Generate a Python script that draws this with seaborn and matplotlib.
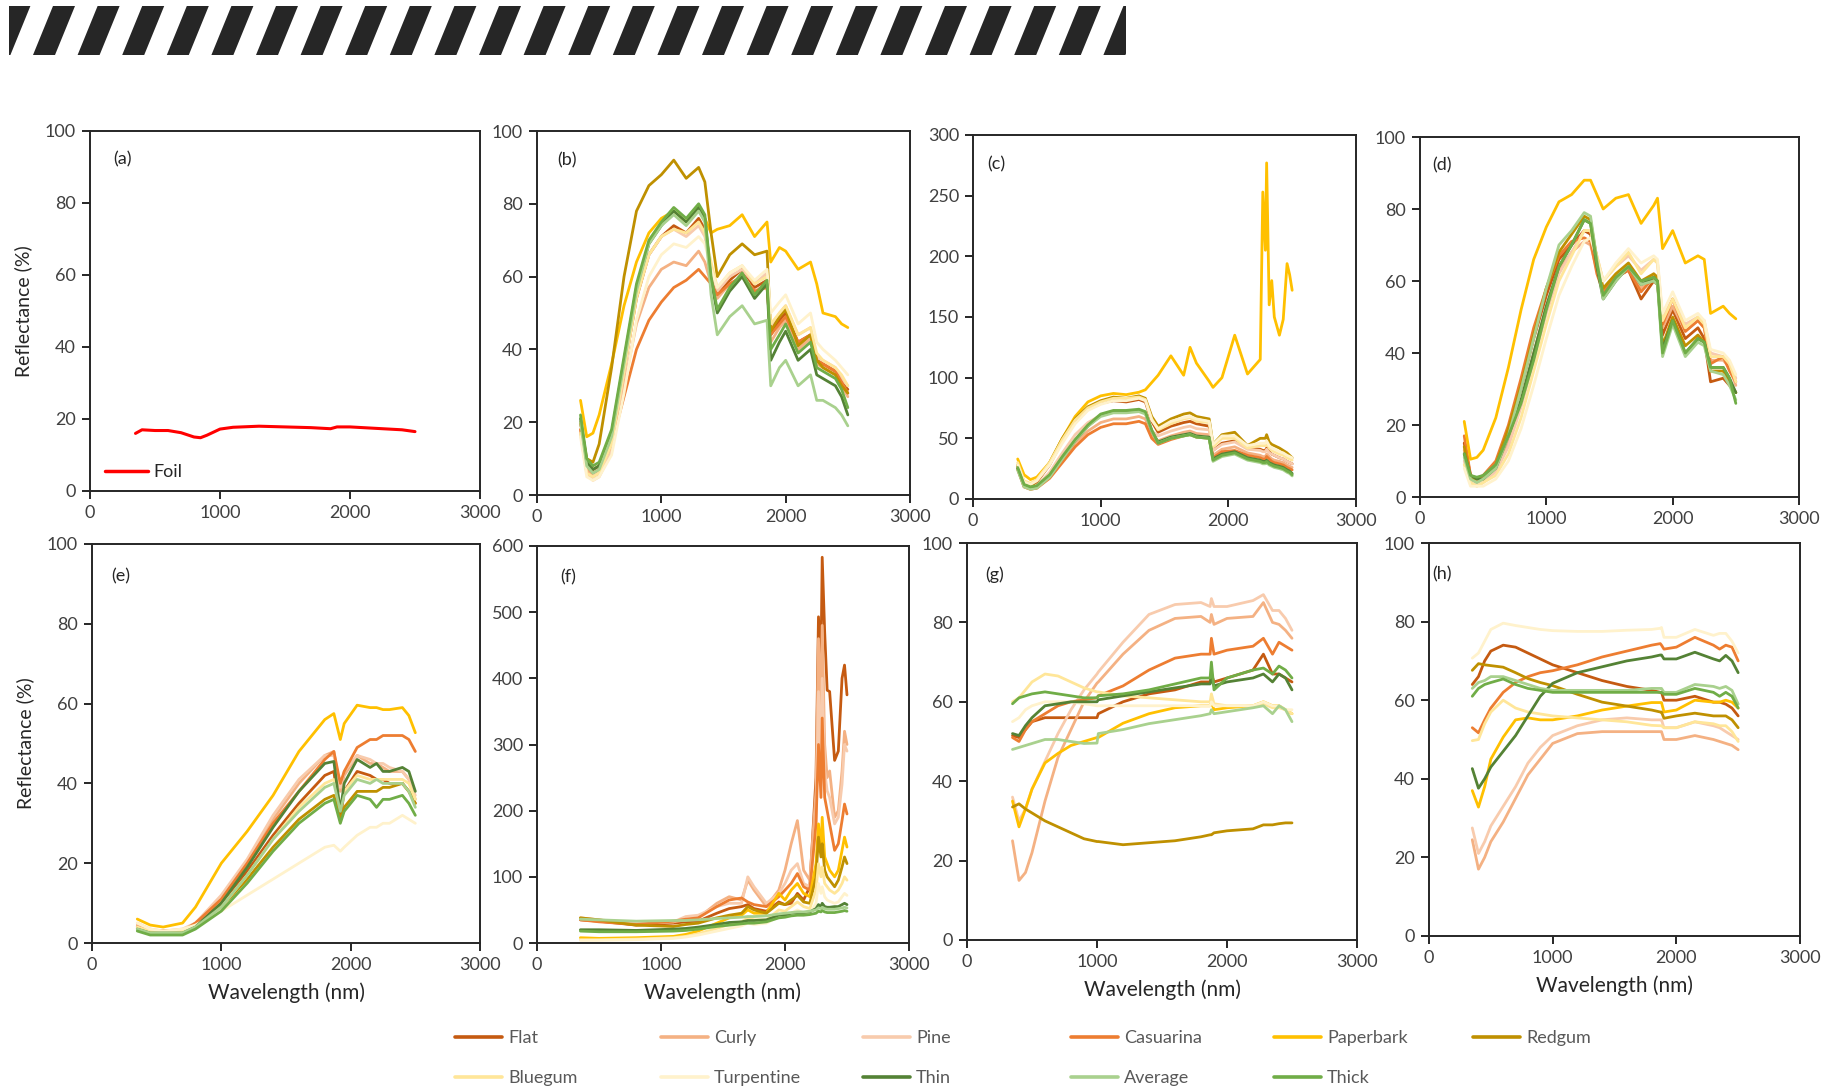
import matplotlib
matplotlib.use("Agg")
import matplotlib.pyplot as plt
from matplotlib.lines import Line2D
import pandas as pd
import seaborn as sns

# ---- series names and colours (legend order) ----
samples = ["Flat", "Curly", "Pine", "Casuarina", "Paperbark", "Redgum",
           "Bluegum", "Turpentine", "Thin", "Average", "Thick"]
colours = ["#C55A11", "#F4B183", "#F8CBAD", "#ED7D31", "#FFC000", "#BF9000",
           "#FFE699", "#FFF2CC", "#548235", "#A9D18E", "#70AD47"]

# ---- (a) foil ----
wl_a = [350, 400, 500, 600, 700, 800, 850, 900, 1000, 1100, 1300, 1500, 1700, 1850, 1900, 2000, 2200, 2400, 2500]
foil = [16, 17, 16.8, 16.8, 16.2, 15, 14.8, 15.5, 17.2, 17.7, 18, 17.8, 17.6, 17.3, 17.8, 17.8, 17.4, 17, 16.5]

# ---- (b) ----
wl_b = [350, 400, 450, 500, 600, 700, 800, 900, 1000, 1100, 1200, 1300, 1350, 1400, 1450,
        1550, 1650, 1750, 1850, 1880, 1950, 2000, 2100, 2200, 2250, 2300, 2400, 2450, 2500]
refl_b = {
    "Flat":       [20, 9, 7, 8, 16, 34, 54, 66, 71, 74, 72, 76, 73, 62, 55, 59, 62, 57, 59, 44, 48, 50, 42, 44, 37, 36, 34, 31, 29],
    "Curly":      [18, 7, 5, 6, 13, 30, 47, 57, 62, 64, 63, 67, 64, 58, 54, 58, 60, 56, 58, 42, 46, 48, 40, 43, 36, 35, 33, 30, 27],
    "Pine":       [17, 6, 4, 5, 12, 34, 55, 66, 71, 73, 71, 74, 71, 62, 56, 60, 62, 58, 61, 46, 50, 52, 44, 46, 38, 37, 35, 32, 30],
    "Casuarina":  [18, 8, 6, 7, 14, 27, 40, 48, 53, 57, 59, 62, 60, 58, 55, 58, 60, 56, 57, 44, 47, 49, 42, 44, 37, 36, 34, 31, 28],
    "Paperbark":  [26, 16, 17, 22, 36, 52, 64, 72, 76, 78, 75, 79, 76, 72, 73, 74, 77, 71, 75, 64, 68, 67, 62, 64, 58, 50, 49, 47, 46],
    "Redgum":     [20, 10, 9, 14, 35, 60, 78, 85, 88, 92, 87, 90, 86, 72, 60, 66, 69, 66, 67, 45, 49, 51, 41, 44, 37, 35, 33, 30, 28],
    "Bluegum":    [17, 6, 5, 6, 14, 34, 54, 66, 71, 73, 72, 75, 72, 64, 57, 61, 63, 58, 60, 47, 50, 52, 44, 46, 39, 37, 35, 33, 30],
    "Turpentine": [16, 5, 4, 5, 11, 28, 48, 60, 66, 69, 68, 71, 69, 62, 57, 61, 63, 59, 62, 50, 53, 55, 47, 50, 42, 40, 37, 35, 33],
    "Thin":       [21, 9, 7, 8, 17, 37, 57, 69, 74, 78, 75, 79, 76, 59, 50, 56, 60, 54, 58, 37, 42, 45, 37, 40, 33, 32, 30, 27, 22],
    "Average":    [20, 8, 6, 7, 16, 36, 56, 69, 74, 77, 74, 78, 75, 55, 44, 49, 52, 47, 48, 30, 35, 37, 30, 33, 26, 26, 24, 22, 19],
    "Thick":      [22, 10, 8, 9, 18, 38, 58, 70, 75, 79, 76, 80, 77, 60, 51, 57, 61, 55, 59, 40, 44, 47, 39, 42, 35, 34, 32, 29, 24],
}

# ---- (c) ----
wl_c = [350, 400, 450, 500, 600, 700, 800, 900, 1000, 1100, 1200, 1300, 1350, 1400, 1450, 1550, 1650, 1700,
        1750, 1850, 1880, 1950, 2050, 2150, 2250, 2270, 2290, 2300, 2320, 2340, 2360, 2400, 2430, 2460, 2480, 2500]
refl_c = {
    "Flat":       [27, 13, 11, 14, 28, 48, 64, 74, 79, 81, 80, 82, 80, 64, 55, 60, 63, 64, 62, 60, 40, 46, 48, 42, 41, 40, 40, 42, 39, 37, 36, 34, 33, 31, 30, 29],
    "Curly":      [24, 10, 8, 9, 18, 32, 46, 56, 63, 66, 66, 68, 66, 52, 48, 52, 55, 56, 54, 53, 36, 41, 43, 38, 36, 35, 35, 37, 35, 33, 32, 31, 30, 28, 27, 26],
    "Pine":       [25, 11, 9, 11, 22, 38, 53, 63, 69, 72, 72, 73, 71, 56, 52, 56, 59, 60, 58, 57, 40, 45, 47, 41, 40, 39, 39, 41, 38, 37, 36, 34, 33, 31, 30, 29],
    "Casuarina":  [25, 10, 8, 9, 17, 30, 43, 53, 59, 62, 62, 64, 62, 50, 45, 49, 52, 53, 51, 50, 34, 39, 40, 36, 34, 33, 33, 35, 33, 31, 30, 29, 28, 26, 25, 24],
    "Paperbark":  [33, 20, 16, 18, 30, 50, 68, 80, 85, 87, 86, 88, 90, 96, 102, 118, 102, 125, 112, 97, 92, 100, 135, 103, 115, 253, 205, 277, 160, 180, 150, 135, 148, 194, 185, 172],
    "Redgum":     [28, 13, 11, 15, 30, 50, 66, 76, 81, 84, 83, 85, 83, 68, 60, 66, 70, 71, 68, 66, 45, 53, 55, 44, 50, 50, 50, 53, 47, 45, 44, 42, 40, 38, 36, 34],
    "Bluegum":    [30, 15, 13, 16, 30, 49, 65, 75, 80, 83, 83, 84, 82, 66, 57, 62, 66, 67, 64, 63, 43, 50, 50, 42, 44, 44, 44, 46, 42, 40, 39, 37, 36, 34, 33, 32],
    "Turpentine": [28, 14, 12, 15, 28, 46, 62, 73, 78, 81, 81, 83, 81, 65, 58, 64, 67, 68, 66, 64, 45, 52, 52, 44, 46, 46, 46, 48, 44, 42, 41, 39, 38, 36, 35, 34],
    "Thin":       [25, 11, 9, 10, 19, 34, 48, 60, 69, 72, 72, 73, 71, 56, 47, 51, 53, 54, 52, 51, 33, 37, 39, 34, 32, 31, 31, 32, 30, 29, 28, 27, 26, 24, 23, 21],
    "Average":    [24, 10, 8, 9, 18, 33, 48, 60, 68, 71, 71, 72, 70, 56, 46, 50, 52, 53, 51, 50, 31, 35, 37, 32, 30, 29, 29, 30, 28, 27, 26, 25, 24, 22, 21, 19],
    "Thick":      [26, 12, 10, 11, 20, 35, 49, 61, 70, 73, 73, 74, 72, 57, 46, 50, 52, 53, 51, 50, 32, 36, 38, 33, 31, 30, 30, 31, 29, 28, 27, 26, 25, 23, 22, 20],
}

# ---- (d) ----
wl_d = [350, 400, 450, 500, 600, 700, 800, 900, 1000, 1100, 1200, 1300, 1350, 1400, 1450,
        1550, 1650, 1750, 1850, 1880, 1920, 2000, 2100, 2200, 2250, 2300, 2400, 2450, 2500]
refl_d = {
    "Flat":       [15, 6, 5, 5, 9, 18, 30, 44, 56, 66, 70, 74, 73, 64, 57, 61, 63, 55, 60, 59, 45, 52, 44, 47, 44, 32, 33, 31, 29],
    "Curly":      [13, 5, 4, 5, 8, 15, 26, 40, 53, 63, 68, 71, 70, 63, 57, 61, 64, 58, 62, 61, 47, 53, 46, 49, 47, 38, 38, 36, 31],
    "Pine":       [10, 4, 3, 4, 7, 14, 25, 38, 51, 62, 68, 74, 74, 67, 60, 64, 67, 63, 66, 65, 50, 55, 48, 50, 49, 40, 39, 37, 33],
    "Casuarina":  [17, 6, 5, 6, 10, 20, 33, 47, 58, 67, 71, 72, 71, 62, 57, 61, 63, 57, 61, 60, 48, 55, 46, 49, 47, 37, 39, 35, 32],
    "Paperbark":  [21, 10.5, 11, 13, 22, 36, 52, 66, 75, 82, 84, 88, 88, 84, 80, 83, 84, 76, 81, 83, 69, 74, 65, 67, 66, 51, 53, 51, 49.5],
    "Redgum":     [14, 5, 5, 5, 9, 19, 31, 45, 58, 68, 73, 78, 77, 66, 58, 62, 65, 60, 62, 61, 42, 50, 42, 45, 43, 35, 35, 32, 29],
    "Bluegum":    [9, 4, 3, 4, 6, 12, 22, 35, 48, 60, 67, 74, 74, 67, 60, 64, 68, 62, 66, 65, 49, 55, 47, 50, 48, 39, 39, 37, 32],
    "Turpentine": [8, 3, 3, 3, 5, 10, 19, 31, 44, 56, 64, 71, 72, 66, 60, 65, 69, 65, 67, 66, 51, 57, 49, 51, 49, 41, 40, 38, 34],
    "Thin":       [12, 6, 5, 5, 8, 17, 27, 40, 53, 64, 70, 77, 76, 64, 55, 60, 64, 59, 61, 60, 41, 49, 40, 44, 43, 36, 36, 33, 29],
    "Average":    [11, 5, 4, 5, 8, 17, 30, 44, 58, 70, 74, 79, 78, 66, 55, 60, 64, 59, 60, 59, 39, 48, 39, 43, 42, 35, 34, 31, 27],
    "Thick":      [12, 6, 5.5, 6, 9, 17, 26, 38, 52, 64, 70, 77, 76, 65, 56, 61, 64, 60, 61, 60, 40, 49, 40, 44, 43, 36, 36, 33, 26],
}

# ---- (e) ----
wl_e = [350, 450, 550, 700, 800, 1000, 1200, 1400, 1600, 1800, 1870, 1920, 1950, 2050, 2150, 2200, 2250, 2300, 2400, 2450, 2500]
refl_e = {
    "Flat":       [4, 3, 2.5, 3, 4.5, 10, 18, 27, 35, 42, 43, 31, 38, 43, 42, 41, 41, 40, 40, 38, 35],
    "Curly":      [4.5, 3, 3, 3, 5, 11, 20, 31, 40, 47, 48, 38, 42, 47, 45, 45, 44, 43, 43, 41, 36],
    "Pine":       [5, 3.5, 3, 3.5, 5, 12, 21, 32, 41, 47, 47, 39, 43, 47, 46, 45, 45, 44, 43, 41, 37],
    "Casuarina":  [4, 3, 3, 3, 5, 11, 20, 30, 38, 46, 48, 40, 43, 49, 51, 51, 52, 52, 52, 51, 48],
    "Paperbark":  [6, 4.5, 4, 5, 9, 20, 28, 37, 48, 56, 57.5, 51, 55, 59.6, 59, 59, 58.5, 58.5, 59, 57, 52.7],
    "Redgum":     [3.5, 2.5, 2.5, 2.5, 4, 9, 16, 24, 31, 36, 37, 31, 34, 38, 38, 38, 39, 39, 40, 38, 35],
    "Bluegum":    [4, 3, 2.5, 3, 4, 9, 17, 26, 34, 40, 41, 34, 38, 42, 41, 41, 41, 41, 41, 40, 36],
    "Turpentine": [5, 3.5, 3, 3.5, 4.5, 8, 12, 16, 20, 24, 24.5, 23, 24, 27, 29, 29, 30, 30, 32, 31, 30],
    "Thin":       [3.5, 2.5, 2.5, 2.5, 4, 10, 19, 29, 38, 45, 45.5, 33, 40, 46, 44, 45, 43, 43, 44, 43, 38],
    "Average":    [3.5, 2.5, 2.5, 2.5, 4, 9, 17, 26, 33, 39, 40, 33, 37, 41, 40, 41, 40, 40, 40, 38, 34],
    "Thick":      [3, 2, 2, 2, 3.5, 8, 15, 23, 30, 35, 36, 30, 33, 37, 36, 34, 36, 36, 37, 35, 32],
}

# ---- (f) ----
wl_f = [350, 500, 800, 1100, 1200, 1300, 1450, 1550, 1650, 1700, 1750, 1850, 1950, 2000, 2050,
        2100, 2150, 2200, 2250, 2270, 2290, 2300, 2320, 2340, 2360, 2400, 2430, 2460, 2480, 2500]
refl_f = {
    "Flat":       [35, 33, 27, 30, 32, 33, 45, 52, 55, 58, 52, 48, 62, 58, 60, 75, 65, 85, 250, 493, 420, 583, 470, 382, 380, 276, 290, 400, 420, 375],
    "Curly":      [38, 35, 30, 32, 35, 38, 60, 70, 65, 95, 80, 55, 80, 110, 150, 185, 110, 95, 230, 460, 350, 480, 300, 250, 260, 190, 200, 260, 320, 300],
    "Pine":       [36, 34, 30, 32, 40, 42, 55, 60, 60, 100, 85, 60, 75, 90, 110, 120, 90, 85, 180, 380, 280, 400, 260, 230, 220, 180, 190, 240, 300, 290],
    "Casuarina":  [35, 32, 28, 33, 36, 38, 55, 65, 68, 62, 58, 55, 70, 80, 90, 105, 85, 80, 180, 300, 220, 340, 220, 200, 180, 140, 150, 185, 210, 195],
    "Paperbark":  [8, 7, 8, 10, 13, 18, 30, 38, 42, 50, 45, 45, 75, 65, 80, 90, 75, 70, 120, 180, 140, 190, 130, 120, 110, 100, 110, 140, 160, 145],
    "Redgum":     [38, 35, 27, 25, 28, 30, 38, 42, 45, 55, 50, 45, 60, 58, 65, 72, 62, 60, 100, 160, 130, 150, 110, 100, 95, 85, 95, 115, 130, 120],
    "Bluegum":    [5, 5, 6, 8, 10, 14, 22, 28, 32, 38, 35, 35, 50, 48, 55, 62, 55, 52, 80, 120, 100, 115, 90, 85, 80, 75, 80, 90, 100, 95],
    "Turpentine": [4, 4, 5, 7, 9, 12, 18, 22, 26, 30, 28, 30, 40, 40, 45, 50, 45, 45, 60, 90, 75, 85, 70, 65, 63, 60, 62, 70, 75, 72],
    "Thin":       [20, 20, 19, 21, 22, 24, 28, 31, 32, 34, 34, 35, 42, 42, 45, 46, 46, 47, 52, 58, 55, 60, 55, 54, 54, 55, 55, 58, 60, 58],
    "Average":    [36, 35, 33, 34, 34, 35, 37, 38, 39, 40, 40, 41, 44, 45, 46, 47, 47, 48, 50, 53, 52, 54, 52, 51, 51, 51, 52, 53, 54, 53],
    "Thick":      [18, 17, 17, 18, 19, 21, 25, 27, 29, 30, 30, 32, 38, 39, 41, 42, 42, 43, 45, 48, 47, 49, 47, 46, 46, 46, 47, 48, 49, 48],
}

# ---- (g) ----
wl_g = [350, 400, 450, 500, 600, 700, 800, 900, 1000, 1010, 1200, 1400, 1600, 1800, 1870, 1880,
        1900, 2000, 2200, 2280, 2350, 2400, 2450, 2500]
refl_g = {
    "Flat":       [51.5, 51, 53, 55, 56, 56, 56, 56, 56, 57, 60, 62, 63, 65, 65, 67, 65, 66, 68, 72, 67, 67, 66, 65],
    "Curly":      [25, 15, 17, 22, 35, 46, 53, 60, 64.7, 65, 72, 78, 81, 81.5, 80, 82, 79.5, 81, 81.5, 85, 80, 79.5, 78, 76],
    "Pine":       [36, 30, 33, 38, 45, 52, 58, 63, 67, 67.5, 75, 82, 84.5, 85, 84, 86, 84, 84, 85.5, 87, 83, 83, 81, 78],
    "Casuarina":  [51, 50, 53, 55, 57, 59, 60, 60.5, 61, 61.5, 64, 68, 71, 72, 72, 76, 72, 73, 74, 76, 72, 75, 74, 73],
    "Paperbark":  [35, 28.5, 33, 38, 44.6, 47, 49, 50, 51, 51, 54.6, 57, 58.5, 59, 59, 60, 58, 58.5, 59, 60, 59, 59, 58, 57],
    "Redgum":     [33.5, 34.3, 33, 32, 30, 28.5, 27, 25.5, 24.8, 24.8, 24, 24.5, 25, 26, 26.5, 26.5, 27, 27.5, 28, 29, 29, 29.3, 29.5, 29.5],
    "Bluegum":    [60, 61, 63, 65, 67, 66.5, 65, 63.5, 62.5, 62.5, 61.5, 61, 60.5, 60, 60, 62, 59.5, 59, 59, 59.5, 58.5, 58.5, 58, 57],
    "Turpentine": [55, 56, 58, 59, 60, 60, 60, 59.5, 59, 59, 59, 59, 59, 59, 59, 60, 59, 59, 59, 60, 59, 59, 58, 58],
    "Thin":       [52, 51.5, 54, 56, 59, 59.5, 60, 60, 60, 60.5, 61.5, 62.5, 63.5, 64.5, 64.5, 66, 64, 65, 66, 67, 65, 67, 66, 63],
    "Average":    [48, 48.5, 49, 49.5, 50.5, 50.5, 50, 49.5, 49.6, 52, 53, 54.5, 55.5, 56.5, 57, 58, 57, 57.5, 58.5, 59, 57, 59, 58, 55],
    "Thick":      [59.5, 61, 61.5, 62, 62.5, 62, 61.5, 61, 61, 61.5, 62, 63, 64.5, 66, 66, 70, 63, 66, 68, 68.5, 67, 69, 68, 66],
}

# ---- (h) ----
wl_h = [350, 400, 450, 500, 600, 700, 800, 900, 1000, 1200, 1400, 1600, 1800, 1870, 1880, 1900,
        2000, 2150, 2300, 2350, 2400, 2450, 2500]
refl_h = {
    "Flat":       [64, 66, 70, 72.5, 74, 73.5, 72, 70.5, 69, 67, 65, 63.5, 62.5, 62, 62, 60, 60, 61, 59.5, 59.5, 59, 58, 56],
    "Curly":      [24.5, 17, 20, 24, 29, 35, 41, 45, 49, 51.5, 52, 52, 52, 52, 52, 50, 50, 51, 50, 49.5, 49, 48.5, 47.4],
    "Pine":       [27.5, 21, 24, 28, 33, 38, 44, 48, 51, 53.5, 55, 55.5, 55, 55, 55, 53, 53, 54.5, 53.5, 53, 52, 51, 50],
    "Casuarina":  [53, 51.7, 55, 58, 62, 64.5, 66, 67, 67.5, 69, 71, 72.5, 74, 74.4, 74, 73, 73.5, 76, 74, 73, 74, 73.5, 70],
    "Paperbark":  [37, 32.8, 38, 45, 50.6, 55, 55.5, 55, 55, 56, 57.5, 58.5, 59.4, 59.4, 59.4, 57, 57.5, 60, 59.5, 59.5, 60, 59.5, 58],
    "Redgum":     [67.6, 69.3, 69, 68.8, 68.4, 67, 65.5, 64.5, 63.7, 61.5, 59.5, 58.5, 57.5, 57, 57, 55.4, 56, 56.7, 56, 56, 56, 55, 53],
    "Bluegum":    [49.7, 50, 54, 57, 60, 58, 57, 56.5, 56, 55.5, 55, 54.5, 53.6, 53.5, 53.5, 53, 53, 54.5, 54, 53.5, 53.5, 52, 49.5],
    "Turpentine": [70.7, 72, 75, 78, 79.6, 79, 78.5, 78, 77.7, 77.5, 77.5, 77.8, 78, 78.3, 78.5, 76, 76, 78, 76.5, 77, 77, 75, 72],
    "Thin":       [42.6, 37.6, 40, 43, 47, 51, 56, 61, 64.3, 67, 68.5, 70, 71, 71.5, 71.5, 70.5, 70.5, 72.2, 70.5, 70, 71.4, 70, 67],
    "Average":    [63, 64.5, 65, 66, 66, 65, 64, 63, 62.5, 62.5, 62.5, 62.5, 63, 63, 63, 62, 62, 64, 63.5, 63, 63.5, 62.5, 59],
    "Thick":      [61, 63, 64, 64.5, 65.4, 64, 63, 62.5, 62, 62, 62, 62, 62, 62, 62, 61.5, 61.5, 63, 62, 61, 62, 61, 58],
}

panel_tags = ["(a)", "(b)", "(c)", "(d)", "(e)", "(f)", "(g)", "(h)"]
y_max = [100, 100, 300, 100, 100, 600, 100, 100]
y_step = [20, 20, 50, 20, 20, 100, 20, 20]


def long_frame(wl, refl):
    rows = []
    for name in samples:
        for w, r in zip(wl, refl[name]):
            rows.append((name, w, r))
    return pd.DataFrame(rows, columns=["sample", "wl", "refl"])


sns.set_style("ticks")
plt.rcParams["font.family"] = ["Lato", "DejaVu Sans"]

W, H = 1841, 1090
fig = plt.figure(figsize=(W / 100, H / 100), dpi=100)


def px_axes(x0, y0, x1, y1):
    return fig.add_axes([x0 / W, 1 - y1 / H, (x1 - x0) / W, (y1 - y0) / H])


# axes boxes in pixels (left, top, right, bottom)
boxes = [(90, 131, 480, 491), (537, 131, 910, 495), (973, 135, 1356, 499), (1420, 137, 1799, 497),
         (92, 544, 480, 943), (537, 546, 909, 943), (967, 543, 1357, 940), (1429, 543, 1800, 936)]
tag_x = [0.06, 0.054, 0.037, 0.032, 0.05, 0.062, 0.046, 0.01]

palette = dict(zip(samples, colours))
spectra = [None, (wl_b, refl_b), (wl_c, refl_c), (wl_d, refl_d),
           (wl_e, refl_e), (wl_f, refl_f), (wl_g, refl_g), (wl_h, refl_h)]

for i, box in enumerate(boxes):
    ax = px_axes(*box)
    if i == 0:
        df = pd.DataFrame({"wl": wl_a, "refl": foil})
        sns.lineplot(data=df, x="wl", y="refl", color="#FF0000", linewidth=2.2, ax=ax)
        ax.legend(handles=[Line2D([], [], color="#FF0000", lw=2.5)], labels=["Foil"],
                  loc="center left", bbox_to_anchor=(0.038, 0.053), frameon=False,
                  borderpad=0, borderaxespad=0, handlelength=2.4, handletextpad=0.3,
                  fontsize=13, labelcolor="#262626")
    else:
        df = long_frame(*spectra[i])
        sns.lineplot(data=df, x="wl", y="refl", hue="sample", hue_order=samples,
                     palette=palette, estimator=None, linewidth=2, legend=False, ax=ax)
    ax.set_xlim(0, 3000)
    ax.set_ylim(0, y_max[i])
    ax.set_xticks(range(0, 3001, 1000))
    ax.set_yticks(range(0, y_max[i] + 1, y_step[i]))
    ax.tick_params(direction="out", length=6, width=1.4, labelsize=13,
                   labelcolor="#404040", color="#262626", pad=4)
    for s in ax.spines.values():
        s.set_linewidth(1.4)
        s.set_color("#262626")
    ax.set_xlabel("Wavelength (nm)" if i >= 4 else "", fontsize=15, color="#262626", labelpad=7)
    ax.set_ylabel("Reflectance (%)" if i in (0, 4) else "", fontsize=14, color="#262626", labelpad=9)
    ax.text(tag_x[i], 0.92, panel_tags[i], transform=ax.transAxes, fontsize=13,
            color="#262626", va="center", ha="left")

# striped banner at the top
banner = px_axes(9, 6, 1126, 55)
banner.set_xlim(0, 1117)
banner.set_ylim(0, 49)
banner.axis("off")
period, stripe, slant = 44.6, 22, 20
for k in range(-1, 26):
    x0 = 24 + k * period
    banner.fill([x0, x0 + stripe, x0 + stripe + slant, x0 + slant], [0, 0, 49, 49],
                color="#262626", lw=0)

# bottom legend, one column at a time so columns are evenly spaced
col_x = [455, 661, 863, 1071, 1274, 1473]
for c, x in enumerate(col_x):
    names = samples[c::6]
    handles = [Line2D([], [], color=palette[n], lw=2.6) for n in names]
    fig.legend(handles=handles, labels=names, loc="upper left",
               bbox_to_anchor=(x / W, 1 - 1030 / H), frameon=False, borderpad=0,
               borderaxespad=0, handlelength=2.6, handletextpad=0.33, labelspacing=1.35,
               fontsize=13, labelcolor="#595959")

fig.savefig("out.png", dpi=100)
